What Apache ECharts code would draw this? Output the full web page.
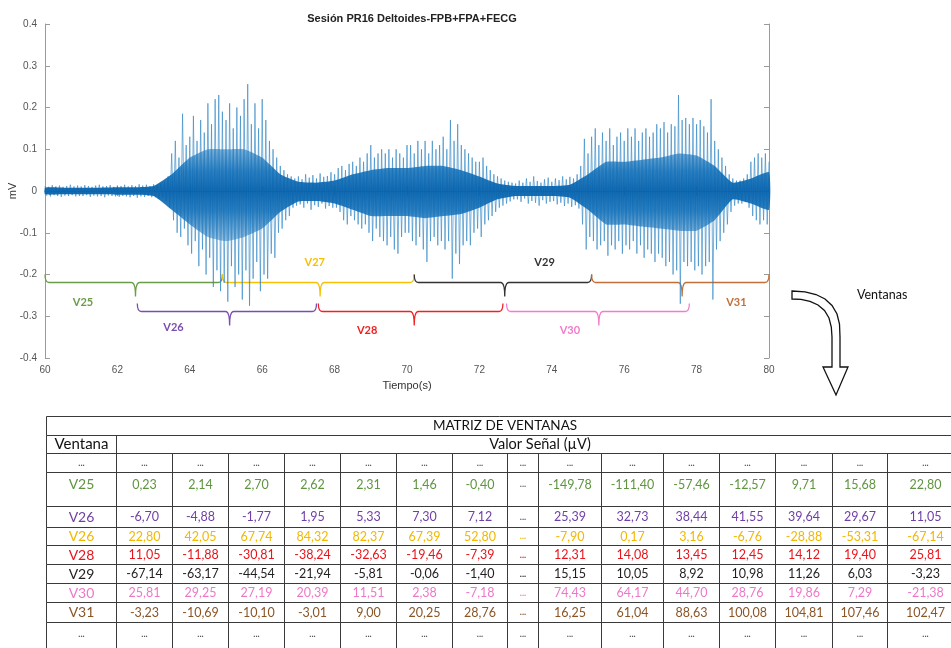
<!DOCTYPE html>
<html>
<head>
<meta charset="utf-8">
<script src="https://cdn.jsdelivr.net/npm/echarts@6/dist/echarts.min.js"></script>
<style>
  html, body { margin: 0; padding: 0; background: #ffffff; }
  #chart { width: 951px; height: 648px; }
</style>
</head>
<body>
<div id="chart"></div>
<script>
// ---------------- signal (mV), sampled every 0.1 s from 60 s ----------------
const sigStart = 60;
const sigStep = 0.1;
// positive excursions per step
const spikeHi = [
  0.012,0.010,0.014,0.011,0.013,0.010,0.012,0.015,0.011,0.013,
  0.011,0.014,0.012,0.010,0.013,0.015,0.011,0.012,0.014,0.010,
  0.013,0.012,0.015,0.011,0.014,0.012,0.016,0.013,0.015,0.012,
  0.016,0.014,0.018,0.022,0.035,0.090,0.120,0.080,0.185,0.110,
  0.130,0.180,0.120,0.170,0.140,0.210,0.160,0.220,0.230,0.190,
  0.170,0.210,0.150,0.200,0.180,0.220,0.256,0.160,0.210,0.150,
  0.220,0.170,0.120,0.100,0.080,0.060,0.050,0.040,0.035,0.030,
  0.035,0.028,0.040,0.032,0.038,0.030,0.042,0.034,0.036,0.045,
  0.040,0.055,0.060,0.050,0.065,0.070,0.060,0.080,0.070,0.090,
  0.110,0.080,0.090,0.100,0.090,0.100,0.080,0.100,0.090,0.080,
  0.110,0.110,0.090,0.120,0.100,0.120,0.090,0.120,0.100,0.110,
  0.130,0.100,0.170,0.120,0.160,0.110,0.100,0.090,0.080,0.070,
  0.070,0.080,0.060,0.050,0.040,0.035,0.030,0.025,0.022,0.020,
  0.018,0.025,0.020,0.030,0.022,0.035,0.024,0.020,0.028,0.032,
  0.022,0.030,0.026,0.035,0.028,0.034,0.030,0.040,0.060,0.125,
  0.090,0.130,0.150,0.110,0.140,0.120,0.150,0.110,0.130,0.140,
  0.120,0.150,0.130,0.150,0.120,0.140,0.150,0.130,0.140,0.160,
  0.150,0.165,0.140,0.160,0.155,0.230,0.170,0.175,0.160,0.175,
  0.160,0.170,0.155,0.140,0.220,0.120,0.100,0.080,0.060,0.040,
  0.030,0.025,0.025,0.030,0.040,0.070,0.080,0.090,0.080,0.090,
  0.070
];
// negative excursions per step
const spikeLo = [
  -0.011,-0.013,-0.010,-0.012,-0.014,-0.011,-0.012,-0.010,-0.013,-0.012,
  -0.012,-0.010,-0.014,-0.011,-0.013,-0.012,-0.015,-0.011,-0.012,-0.013,
  -0.014,-0.012,-0.013,-0.015,-0.012,-0.016,-0.013,-0.014,-0.012,-0.015,
  -0.015,-0.018,-0.016,-0.024,-0.040,-0.070,-0.100,-0.110,-0.090,-0.130,
  -0.150,-0.120,-0.180,-0.140,-0.200,-0.160,-0.230,-0.190,-0.240,-0.220,
  -0.265,-0.180,-0.230,-0.200,-0.260,-0.190,-0.275,-0.210,-0.170,-0.240,
  -0.200,-0.210,-0.150,-0.160,-0.100,-0.090,-0.070,-0.060,-0.040,-0.035,
  -0.032,-0.040,-0.030,-0.045,-0.034,-0.038,-0.030,-0.042,-0.036,-0.040,
  -0.040,-0.050,-0.070,-0.080,-0.060,-0.070,-0.080,-0.090,-0.080,-0.100,
  -0.120,-0.090,-0.110,-0.120,-0.130,-0.110,-0.140,-0.150,-0.110,-0.100,
  -0.100,-0.120,-0.130,-0.110,-0.140,-0.170,-0.120,-0.110,-0.130,-0.120,
  -0.140,-0.120,-0.210,-0.150,-0.175,-0.130,-0.120,-0.130,-0.100,-0.090,
  -0.110,-0.080,-0.070,-0.060,-0.050,-0.040,-0.035,-0.030,-0.025,-0.020,
  -0.020,-0.026,-0.018,-0.030,-0.024,-0.028,-0.035,-0.022,-0.030,-0.026,
  -0.024,-0.032,-0.028,-0.036,-0.030,-0.038,-0.034,-0.042,-0.080,-0.140,
  -0.110,-0.120,-0.140,-0.130,-0.120,-0.155,-0.130,-0.140,-0.120,-0.150,
  -0.130,-0.140,-0.120,-0.150,-0.130,-0.160,-0.140,-0.150,-0.170,-0.150,
  -0.160,-0.180,-0.170,-0.200,-0.190,-0.270,-0.170,-0.180,-0.170,-0.190,
  -0.180,-0.200,-0.180,-0.170,-0.260,-0.140,-0.120,-0.100,-0.080,-0.050,
  -0.035,-0.030,-0.030,-0.025,-0.040,-0.060,-0.070,-0.080,-0.070,-0.080,
  -0.060
];
// dense core of the trace, every 0.5 s
const coreStep = 0.5;
const coreHi = [0.008,0.008,0.008,0.008,0.009,0.009,0.012,0.040,0.080,0.100,0.100,0.100,0.080,0.040,0.022,0.020,0.025,0.040,0.050,0.055,0.055,0.060,0.060,0.050,0.035,0.018,0.012,0.012,0.012,0.015,0.040,0.070,0.070,0.075,0.080,0.090,0.085,0.060,0.020,0.030,0.045];
const coreLo = [-0.008,-0.008,-0.008,-0.008,-0.009,-0.009,-0.012,-0.045,-0.080,-0.110,-0.120,-0.110,-0.090,-0.050,-0.025,-0.024,-0.030,-0.045,-0.060,-0.060,-0.060,-0.065,-0.060,-0.055,-0.040,-0.020,-0.012,-0.012,-0.012,-0.016,-0.045,-0.080,-0.080,-0.085,-0.090,-0.095,-0.095,-0.070,-0.020,-0.030,-0.045];

// ---------------- windows (s) ----------------
const winNames  = ['V25', 'V26', 'V27', 'V28', 'V29', 'V30', 'V31'];
const winStart  = [60.0, 62.55, 64.9, 67.55, 70.2, 72.75, 75.1];
const winEnd    = [64.9, 67.5, 70.2, 72.65, 75.1, 77.8, 80.0];
const winCenter = [62.5, 65.1, 67.6, 70.2, 72.7, 75.3, 77.6];
const winRow    = [0, 1, 0, 1, 0, 1, 0];

// ---------------- window matrix (µV) ----------------
const tableTitle  = 'MATRIZ DE VENTANAS';
const rowHeader   = 'Ventana';
const valueHeader = 'Valor Señal (µV)';
const rowLabels   = ['V25', 'V26', 'V26', 'V28', 'V29', 'V30', 'V31'];
const firstValues = [
  ['0,23', '2,14', '2,70', '2,62', '2,31', '1,46', '-0,40'],
  ['-6,70', '-4,88', '-1,77', '1,95', '5,33', '7,30', '7,12'],
  ['22,80', '42,05', '67,74', '84,32', '82,37', '67,39', '52,80'],
  ['11,05', '-11,88', '-30,81', '-38,24', '-32,63', '-19,46', '-7,39'],
  ['-67,14', '-63,17', '-44,54', '-21,94', '-5,81', '-0,06', '-1,40'],
  ['25,81', '29,25', '27,19', '20,39', '11,51', '2,38', '-7,18'],
  ['-3,23', '-10,69', '-10,10', '-3,01', '9,00', '20,25', '28,76']
];
const lastValues = [
  ['-149,78', '-111,40', '-57,46', '-12,57', '9,71', '15,68', '22,80'],
  ['25,39', '32,73', '38,44', '41,55', '39,64', '29,67', '11,05'],
  ['-7,90', '0,17', '3,16', '-6,76', '-28,88', '-53,31', '-67,14'],
  ['12,31', '14,08', '13,45', '12,45', '14,12', '19,40', '25,81'],
  ['15,15', '10,05', '8,92', '10,98', '11,26', '6,03', '-3,23'],
  ['74,43', '64,17', '44,70', '28,76', '19,86', '7,29', '-21,38'],
  ['16,25', '61,04', '88,63', '100,08', '104,81', '107,46', '102,47']
];
const ellipsis = '...';

// ---------------- styling / layout ----------------
const winColors = ['#6b9c49', '#7a4db0', '#f7c000', '#ee2222', '#333333', '#f07dcc', '#c07038'];
const winLabelPos = [[61.05, -0.266], [63.55, -0.328], [67.45, -0.172], [68.9, -0.335],
                     [73.8, -0.170], [74.5, -0.333], [79.1, -0.266]];
const rowLevel = [-0.218, -0.288];
const rowColors = ['#5f9440', '#6f3fa6', '#f2b800', '#e8141c', '#1f1f1f', '#ee78c8', '#8a5526'];
const colW = [70, 56, 56, 56, 56, 56, 56, 55, 31, 63, 62, 56, 56, 57, 55, 76];
const rowH = [19, 18, 19, 34, 21, 18, 19, 19, 19, 20, 38];
// outline of the curved "Ventanas" arrow
const arrowOutline = [
  [792, 291], [805, 291.8], [816, 294.5], [825, 299], [832, 305.5], [837, 314], [839.5, 324],
  [840, 337], [840, 367], [848, 367], [836, 395], [823, 367], [832, 367], [832, 337],
  [831.3, 327], [829, 318], [824.5, 310.5], [818, 305], [810, 301.3], [801, 299.3], [792, 299]
];

const colEdge = [0]; colW.forEach(w => colEdge.push(colEdge[colEdge.length - 1] + w));
const rowEdge = [0]; rowH.forEach(h => rowEdge.push(rowEdge[rowEdge.length - 1] + h));
const tableW = colEdge[colEdge.length - 1];
const tableH = rowEdge[rowEdge.length - 1];

// zig-zag trace through the per-step extremes
const traceData = [];
spikeHi.forEach((v, i) => {
  const t = sigStart + i * sigStep;
  traceData.push([t, v]);
  if (i < spikeLo.length - 1) traceData.push([t + sigStep / 2, spikeLo[i]]);
});

// table cells
const cells = [];
function addCell(c0, c1, r, text, color, font) {
  cells.push({ c0, c1, r, text, color, font });
}
const fTitle = '13.5px Lato';
const fHead = '15px Lato';
const fSub = '14.5px Lato';
const fLabel = '14px Lato';
const fVal = '12.5px Lato';
const fDots = 'bold 9px Lato';
const nCols = colW.length;
addCell(0, nCols, 0, tableTitle, '#111', fTitle);
addCell(0, 1, 1, rowHeader, '#111', fHead);
addCell(1, nCols, 1, valueHeader, '#111', fSub);
for (let c = 0; c < nCols; c++) addCell(c, c + 1, 2, ellipsis, '#555', fDots);
rowLabels.forEach((lab, k) => {
  const r = 3 + k, col = rowColors[k];
  addCell(0, 1, r, lab, col, fLabel);
  firstValues[k].forEach((v, j) => addCell(1 + j, 2 + j, r, v, col, fVal));
  addCell(8, 9, r, ellipsis, k === 0 ? '#666' : col, fDots);
  lastValues[k].forEach((v, j) => addCell(9 + j, 10 + j, r, v, col, fVal));
});
for (let c = 0; c < nCols; c++) addCell(c, c + 1, 3 + rowLabels.length, ellipsis, '#555', fDots);

const chart = echarts.init(document.getElementById('chart'), null, { renderer: 'canvas' });

const axisGray = '#9a9a9a';
const tickFont = { color: '#555', fontSize: 10, fontFamily: 'Liberation Sans' };

const option = {
  animation: false,
  backgroundColor: '#ffffff',
  title: {
    text: 'Sesión PR16 Deltoides-FPB+FPA+FECG',
    left: 407, top: 8, textAlign: 'center',
    textStyle: { fontFamily: 'Liberation Sans', fontWeight: 'bold', fontSize: 11, color: '#222' }
  },
  grid: [
    { left: 45, top: 24, width: 724, height: 334, outerBoundsMode: 'none', containLabel: false },
    { left: 46, top: 416, width: tableW, height: tableH, outerBoundsMode: 'none', containLabel: false }
  ],
  xAxis: [
    {
      type: 'value', gridIndex: 0, min: 60, max: 80, interval: 2, position: 'bottom',
      name: 'Tiempo(s)', nameLocation: 'middle', nameGap: 22,
      nameTextStyle: { fontFamily: 'Liberation Sans', fontSize: 11, color: '#333' },
      axisLine: { lineStyle: { color: axisGray, width: 1 } },
      axisTick: { inside: true, length: 5, lineStyle: { color: axisGray } },
      axisLabel: Object.assign({ margin: 7 }, tickFont),
      splitLine: { show: false }
    },
    {
      type: 'value', gridIndex: 0, min: 60, max: 80, interval: 2, position: 'top',
      axisLine: { lineStyle: { color: axisGray, width: 1 } },
      axisTick: { inside: true, length: 5, lineStyle: { color: axisGray } },
      axisLabel: { show: false }, splitLine: { show: false }
    },
    { type: 'value', gridIndex: 1, min: 0, max: tableW, show: false }
  ],
  yAxis: [
    {
      type: 'value', gridIndex: 0, min: -0.4, max: 0.4, interval: 0.1, position: 'left',
      name: 'mV', nameLocation: 'middle', nameGap: 27, nameMoveOverlap: false,
      nameTextStyle: { fontFamily: 'Liberation Sans', fontSize: 11, color: '#333' },
      axisLine: { show: true, lineStyle: { color: axisGray, width: 1 } },
      axisTick: { show: true, inside: true, length: 5, lineStyle: { color: axisGray } },
      axisLabel: Object.assign({ margin: 8 }, tickFont),
      splitLine: { show: false }
    },
    {
      type: 'value', gridIndex: 0, min: -0.4, max: 0.4, interval: 0.1, position: 'right',
      axisLine: { show: true, lineStyle: { color: axisGray, width: 1 } },
      axisTick: { show: true, inside: true, length: 5, lineStyle: { color: axisGray } },
      axisLabel: { show: false }, splitLine: { show: false }
    },
    { type: 'value', gridIndex: 1, min: 0, max: tableH, inverse: true, show: false }
  ],
  graphic: [
    {
      type: 'polygon', z: 50,
      shape: { points: arrowOutline },
      style: { fill: '#ffffff', stroke: '#111111', lineWidth: 1.3 }
    },
    {
      type: 'text', z: 50, x: 857, y: 295,
      style: { text: 'Ventanas', font: '12.5px Lato', fill: '#111', align: 'left', verticalAlign: 'middle' }
    }
  ],
  series: [
    {
      // window braces under the trace
      type: 'custom', xAxisIndex: 0, yAxisIndex: 0, z: 2, clip: false,
      data: winNames.map((n, i) => [winStart[i], winEnd[i], winCenter[i], winRow[i]]),
      renderItem: function (params, api) {
        const i = params.dataIndex;
        const lvl = rowLevel[api.value(3)];
        const a = api.coord([api.value(0), lvl]);
        const b = api.coord([api.value(1), lvl]);
        const c = api.coord([api.value(2), lvl]);
        const L = Math.round(a[1]) + 0.5;
        const x0 = a[0], x1 = b[0], xc = c[0];
        const hook = 8, tick = 14, r = 4;
        const d = 'M' + x0 + ' ' + (L - hook) +
          ' Q' + x0 + ' ' + L + ' ' + (x0 + r) + ' ' + L +
          ' L' + (xc - r) + ' ' + L +
          ' Q' + xc + ' ' + L + ' ' + xc + ' ' + (L + tick) +
          ' Q' + xc + ' ' + L + ' ' + (xc + r) + ' ' + L +
          ' L' + (x1 - r) + ' ' + L +
          ' Q' + x1 + ' ' + L + ' ' + x1 + ' ' + (L - hook);
        const lp = api.coord(winLabelPos[i]);
        return {
          type: 'group',
          children: [
            { type: 'path', shape: { pathData: d }, style: { stroke: winColors[i], fill: 'none', lineWidth: 1.3 } },
            { type: 'text', x: lp[0], y: lp[1],
              style: { text: winNames[i], fill: winColors[i], font: 'bold 11px Lato', align: 'center', verticalAlign: 'middle' } }
          ]
        };
      }
    },
    {
      type: 'line', xAxisIndex: 0, yAxisIndex: 0, z: 3,
      data: traceData, showSymbol: false, symbol: 'none', sampling: 'none',
      lineStyle: { color: '#2f84c4', width: 0.9, opacity: 0.7 },
      silent: true
    },
    {
      // dense core of the trace, darkest along the baseline
      type: 'custom', xAxisIndex: 0, yAxisIndex: 0, z: 4,
      data: [[sigStart]],
      renderItem: function (params, api) {
        const pts = [];
        coreHi.forEach((v, i) => pts.push(api.coord([sigStart + i * coreStep, v])));
        for (let i = coreLo.length - 1; i >= 0; i--) pts.push(api.coord([sigStart + i * coreStep, coreLo[i]]));
        const gTop = api.coord([sigStart, 0.12])[1];
        const gBot = api.coord([sigStart, -0.12])[1];
        const fill = new echarts.graphic.LinearGradient(0, gTop, 0, gBot, [
          { offset: 0, color: 'rgba(30,120,190,0.45)' },
          { offset: 0.3, color: 'rgba(12,108,182,0.85)' },
          { offset: 0.5, color: 'rgba(6,98,172,0.95)' },
          { offset: 0.7, color: 'rgba(12,108,182,0.85)' },
          { offset: 1, color: 'rgba(30,120,190,0.45)' }
        ], true);
        return { type: 'polygon', shape: { points: pts, smooth: 0.15 }, style: { fill: fill } };
      }
    },
    {
      // window matrix
      type: 'custom', xAxisIndex: 2, yAxisIndex: 2, z: 5, clip: false,
      data: cells.map(c => [colEdge[c.c0], colEdge[c.c1], rowEdge[c.r], rowEdge[c.r + 1]]),
      renderItem: function (params, api) {
        const cell = cells[params.dataIndex];
        const p0 = api.coord([api.value(0), api.value(2)]);
        const p1 = api.coord([api.value(1), api.value(3)]);
        const x = Math.round(p0[0]) + 0.5, y = Math.round(p0[1]) + 0.5;
        const w = Math.round(p1[0]) - Math.round(p0[0]);
        const h = Math.round(p1[1]) - Math.round(p0[1]);
        const ty = y + Math.min(h / 2, 12);
        return {
          type: 'group',
          children: [
            { type: 'rect', shape: { x: x, y: y, width: w, height: h }, style: { fill: 'none', stroke: '#3a3a3a', lineWidth: 1 } },
            { type: 'text', x: x + w / 2, y: ty,
              style: { text: cell.text, fill: cell.color, font: cell.font, align: 'center', verticalAlign: 'middle' } }
          ]
        };
      }
    }
  ]
};
chart.setOption(option);
</script>
</body>
</html>
